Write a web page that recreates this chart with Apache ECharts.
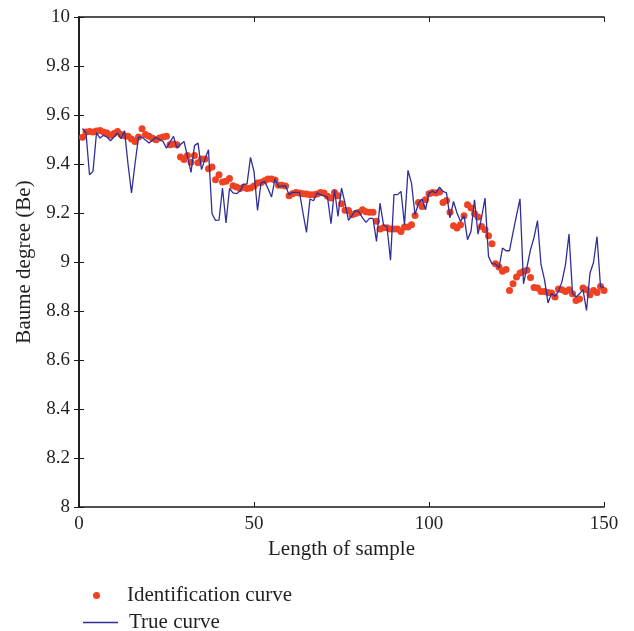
<!DOCTYPE html>
<html>
<head>
<meta charset="utf-8">
<script src="https://cdn.jsdelivr.net/npm/echarts@6/dist/echarts.min.js"></script>
<style>
  html, body { margin: 0; padding: 0; background: #ffffff; }
  #chart { width: 634px; height: 631px; }
</style>
</head>
<body>
<div id="chart"></div>
<script>
// Sample index (1..150)
const sampleIndex = Array.from({ length: 150 }, (_, k) => k + 1);

// Identification curve (Be), one value per sample
const identValues = [
  9.509, 9.531, 9.533, 9.531, 9.535, 9.537, 9.531, 9.527, 9.517, 9.525,
  9.533, 9.520, 9.515, 9.513, 9.502, 9.492, 9.510, 9.544, 9.520, 9.513,
  9.505, 9.499, 9.506, 9.510, 9.513, 9.479, 9.482, 9.479, 9.429, 9.418,
  9.435, 9.407, 9.435, 9.405, 9.420, 9.420, 9.381, 9.388, 9.336, 9.356,
  9.327, 9.330, 9.341, 9.311, 9.306, 9.300, 9.305, 9.300, 9.302, 9.310,
  9.322, 9.325, 9.332, 9.339, 9.339, 9.335, 9.313, 9.313, 9.310, 9.270,
  9.279, 9.284, 9.282, 9.279, 9.278, 9.275, 9.275, 9.278, 9.284, 9.282,
  9.268, 9.261, 9.284, 9.270, 9.238, 9.211, 9.210, 9.193, 9.198, 9.203,
  9.213, 9.205, 9.203, 9.203, 9.166, 9.135, 9.140, 9.140, 9.135, 9.135,
  9.135, 9.125, 9.143, 9.143, 9.152, 9.190, 9.243, 9.227, 9.254, 9.279,
  9.284, 9.282, 9.286, 9.243, 9.251, 9.203, 9.148, 9.139, 9.152, 9.189,
  9.234, 9.220, 9.197, 9.184, 9.145, 9.132, 9.107, 9.075, 8.993, 8.980,
  8.962, 8.969, 8.884, 8.911, 8.939, 8.955, 8.962, 8.966, 8.937, 8.896,
  8.894, 8.880, 8.880, 8.876, 8.873, 8.857, 8.890, 8.887, 8.880, 8.887,
  8.870, 8.843, 8.849, 8.894, 8.887, 8.866, 8.884, 8.876, 8.900, 8.884
];

// True curve (Be), one value per sample
const trueValues = [
  9.545, 9.527, 9.356, 9.370, 9.527, 9.506, 9.517, 9.510, 9.495, 9.510,
  9.527, 9.503, 9.536, 9.400, 9.282, 9.400, 9.510, 9.510, 9.498, 9.486,
  9.497, 9.509, 9.500, 9.492, 9.465, 9.490, 9.513, 9.465, 9.480, 9.492,
  9.430, 9.366, 9.475, 9.486, 9.377, 9.420, 9.458, 9.197, 9.170, 9.171,
  9.302, 9.159, 9.300, 9.282, 9.279, 9.290, 9.318, 9.318, 9.427, 9.370,
  9.211, 9.322, 9.329, 9.300, 9.265, 9.339, 9.309, 9.310, 9.311, 9.275,
  9.284, 9.284, 9.284, 9.200, 9.121, 9.257, 9.250, 9.282, 9.275, 9.270,
  9.265, 9.156, 9.295, 9.186, 9.302, 9.240, 9.170, 9.190, 9.211, 9.205,
  9.180, 9.162, 9.178, 9.178, 9.084, 9.240, 9.152, 9.143, 9.007, 9.275,
  9.275, 9.288, 9.152, 9.374, 9.322, 9.193, 9.240, 9.257, 9.213, 9.282,
  9.288, 9.282, 9.306, 9.288, 9.282, 9.180, 9.247, 9.200, 9.166, 9.189,
  9.091, 9.125, 9.254, 9.114, 9.180, 9.261, 9.023, 8.992, 8.992, 8.976,
  9.057, 9.046, 9.046, 9.120, 9.190, 9.258, 8.911, 8.980, 9.050, 9.100,
  9.169, 8.989, 8.928, 8.833, 8.871, 8.860, 8.880, 8.920, 8.990, 9.114,
  8.873, 8.857, 8.870, 8.887, 8.802, 8.955, 8.998, 9.104, 8.900, 8.896
];

// Axis ranges and tick steps
const xRange = [0, 150];
const xStep = 50;
const yRange = [8, 10];
const yStep = 0.2;

const FONT = '"Liberation Serif", "DejaVu Serif", serif';
const TEXT = '#231f20';
const AXIS = '#1a1a1a';
const RED = '#ef4223';
const BLUE = '#2f2f9a';

const identSeries = sampleIndex.map((x, k) => [x, identValues[k]]);
const trueSeries = sampleIndex.map((x, k) => [x, trueValues[k]]);

const yFormat = v => {
  const r = Math.round(v * 10) / 10;
  return Number.isInteger(r) ? String(r) : r.toFixed(1);
};

const chart = echarts.init(document.getElementById('chart'), null, { renderer: 'canvas' });

const frameAxis = {
  axisLine: { show: true, lineStyle: { color: AXIS, width: 1.6 } },
  axisTick: { show: true, inside: true, length: 5, lineStyle: { color: AXIS, width: 1 } },
  splitLine: { show: false }
};

const legendText = padLeft => ({
  fontFamily: FONT, fontSize: 21, color: TEXT,
  rich: {
    pad: { width: padLeft },
    t: { fontFamily: FONT, fontSize: 21, color: TEXT }
  }
});

chart.setOption({
  backgroundColor: '#ffffff',
  animation: false,
  grid: { left: 79, right: 30, top: 17, bottom: 124, containLabel: false },
  xAxis: [
    Object.assign({
      type: 'value', position: 'bottom', min: xRange[0], max: xRange[1], interval: xStep,
      name: 'Length of sample', nameLocation: 'middle', nameGap: 32,
      nameTextStyle: { fontFamily: FONT, fontSize: 21, color: TEXT },
      axisLabel: { fontFamily: FONT, fontSize: 19, color: TEXT, margin: 8 }
    }, frameAxis),
    Object.assign({
      type: 'value', position: 'top', min: xRange[0], max: xRange[1], interval: xStep,
      axisLabel: { show: false }
    }, frameAxis)
  ],
  yAxis: [
    Object.assign({
      type: 'value', position: 'left', min: yRange[0], max: yRange[1], interval: yStep,
      name: 'Baume degree (Be)', nameLocation: 'middle', nameGap: 42,
      nameTextStyle: { fontFamily: FONT, fontSize: 21, color: TEXT },
      axisLabel: { fontFamily: FONT, fontSize: 19, color: TEXT, margin: 9, formatter: yFormat }
    }, frameAxis),
    Object.assign({
      type: 'value', position: 'right', min: yRange[0], max: yRange[1], interval: yStep,
      axisLabel: { show: false }
    }, frameAxis)
  ],
  legend: [
    {
      data: [{ name: 'Identification curve', icon: 'circle' }],
      orient: 'vertical', left: 88, top: 580,
      itemWidth: 7, itemHeight: 7,
      formatter: n => '{pad|}{t|' + n + '}',
      textStyle: legendText(22)
    },
    {
      data: [{ name: 'True curve', icon: 'rect' }],
      orient: 'vertical', left: 78, top: 607,
      itemWidth: 35, itemHeight: 1.4,
      formatter: n => '{pad|}{t|' + n + '}',
      textStyle: legendText(6)
    }
  ],
  series: [
    {
      name: 'Identification curve',
      type: 'scatter',
      data: identSeries,
      symbol: 'circle',
      symbolSize: 7,
      itemStyle: { color: RED, opacity: 1 },
      z: 2
    },
    {
      name: 'True curve',
      type: 'line',
      data: trueSeries,
      symbol: 'none',
      showSymbol: false,
      lineStyle: { color: BLUE, width: 1.3 },
      itemStyle: { color: BLUE },
      z: 3
    }
  ]
});
</script>
</body>
</html>
